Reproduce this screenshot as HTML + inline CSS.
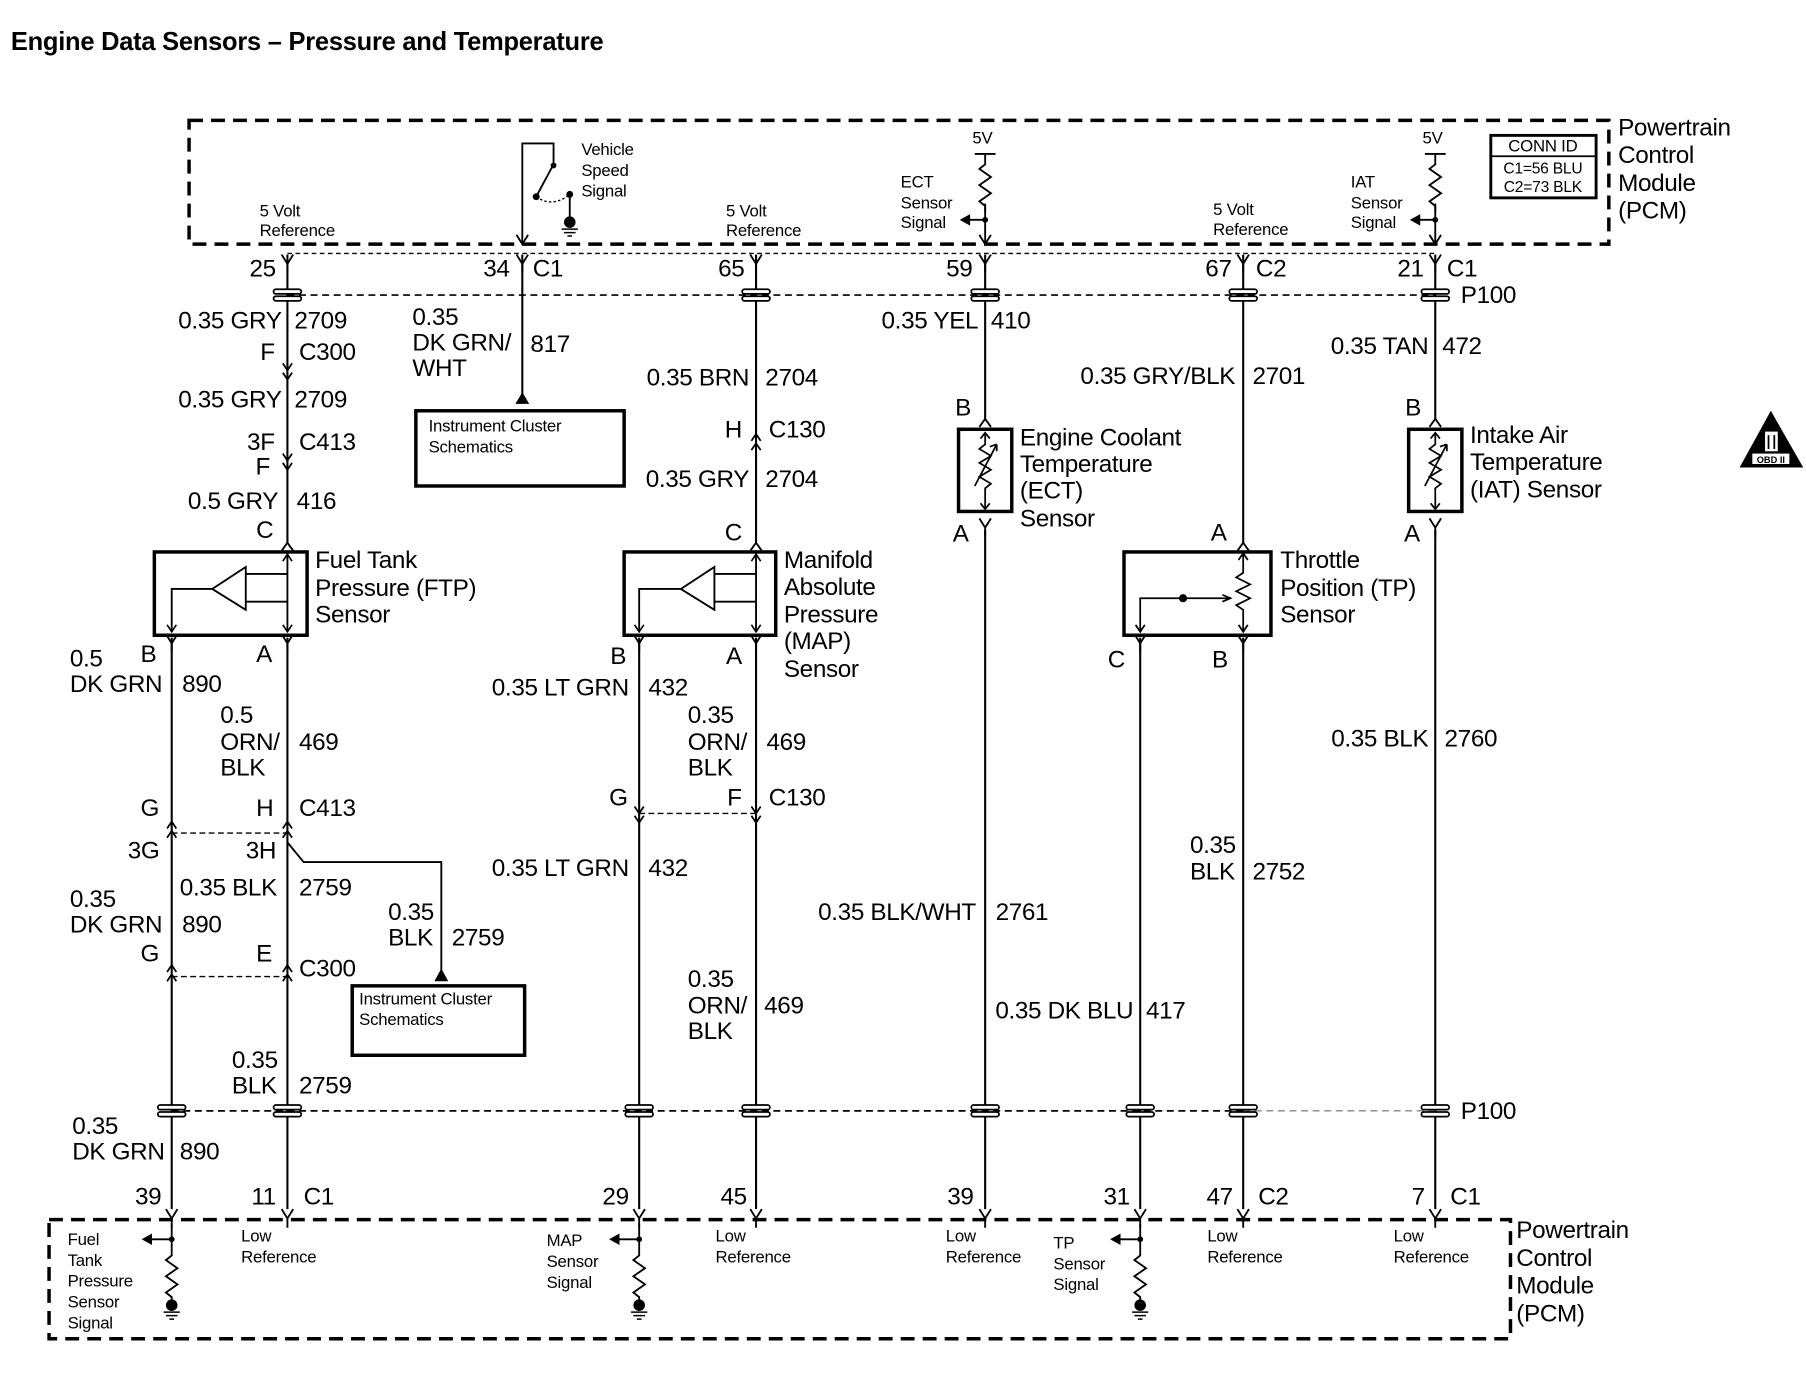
<!DOCTYPE html>
<html><head><meta charset="utf-8"><style>
html,body{margin:0;padding:0;background:#fff}
svg{display:block}
text{font-family:"Liberation Sans",Arial,sans-serif;fill:#000}
.t{font-size:21px;letter-spacing:-0.3px}
.s{font-size:14.5px;letter-spacing:-0.2px}
.r{text-anchor:end}
</style></head><body>
<svg width="1806" height="1392" viewBox="0 0 1560 1203" xmlns="http://www.w3.org/2000/svg">
<defs>
<g id="fork"><path d="M-5,-8 L0,0 L5,-8 M0,0 V8" fill="none" stroke="#000" stroke-width="1.6"/></g>
<g id="pass"><rect x="-12" y="-5" width="24" height="4" rx="2" fill="#fff" stroke="#000" stroke-width="1.5"/><rect x="-12" y="1" width="24" height="4" rx="2" fill="#fff" stroke="#000" stroke-width="1.5"/></g>
<g id="inl"><path d="M-4,-8 L0,-2 L4,-8 M-4,0 L0,6 L4,0" fill="none" stroke="#000" stroke-width="1.5"/></g>
<g id="inlu"><path d="M-4,8 L0,2 L4,8 M-4,0 L0,-6 L4,0" fill="none" stroke="#000" stroke-width="1.5"/></g>
<g id="res"><path d="M0,0 l0,5 l-5,4 l10,7 l-10,7 l10,7 l-10,7 l5,4 l0,5" fill="none" stroke="#000" stroke-width="1.6"/></g>
<g id="gnd"><circle cx="0" cy="0" r="5" fill="#000"/><path d="M-7,6 H7 M-5,9 H5 M-2,12 H2" stroke="#000" stroke-width="1.3"/></g>
</defs>

<text x="9" y="43" style="font-size:22px;font-weight:bold;letter-spacing:-0.2px">Engine Data Sensors – Pressure and Temperature</text>

<!-- Top PCM box -->
<rect x="163" y="104" width="1227" height="107" fill="none" stroke="#000" stroke-width="3" stroke-dasharray="12,7"/>
<text class="s" x="224" y="187">5 Volt</text><text class="s" x="224" y="204">Reference</text>
<text class="s" x="627" y="187">5 Volt</text><text class="s" x="627" y="204">Reference</text>
<text class="s" x="1048" y="186">5 Volt</text><text class="s" x="1048" y="203">Reference</text>
<!-- VSS -->
<path d="M451,211 V124 H478 V142 L463,170" fill="none" stroke="#000" stroke-width="1.6"/>
<circle cx="478" cy="143" r="2.5"/><circle cx="463" cy="170" r="3"/><circle cx="492" cy="168" r="3"/>
<path d="M463,170 Q477,180 492,168" fill="none" stroke="#000" stroke-width="1.2" stroke-dasharray="2,2"/>
<path d="M492,168 V188" stroke="#000" stroke-width="1.6"/><use href="#gnd" x="492" y="192"/>
<path d="M446,203 L451,211 L456,203" fill="none" stroke="#000" stroke-width="1.6"/>
<text class="s" x="502" y="134">Vehicle</text><text class="s" x="502" y="152">Speed</text><text class="s" x="502" y="170">Signal</text>
<!-- ECT pullup -->
<text class="s" x="840" y="124">5V</text>
<path d="M842,133 H860 M851,133 V137" stroke="#000" stroke-width="1.6"/>
<use href="#res" x="851" y="137"/>
<path d="M851,176 V211 M846,203 L851,211 L856,203" fill="none" stroke="#000" stroke-width="1.6"/>
<circle cx="851" cy="190" r="2.5"/><path d="M851,190 H836" stroke="#000" stroke-width="1.6"/><path d="M829,190 L838,185 L838,195 Z"/>
<text class="s" x="778" y="162">ECT</text><text class="s" x="778" y="180">Sensor</text><text class="s" x="778" y="197">Signal</text>
<!-- IAT pullup -->
<text class="s" x="1229" y="124">5V</text>
<path d="M1231,133 H1249 M1240,133 V137" stroke="#000" stroke-width="1.6"/>
<use href="#res" x="1240" y="137"/>
<path d="M1240,176 V211 M1235,203 L1240,211 L1245,203" fill="none" stroke="#000" stroke-width="1.6"/>
<circle cx="1240" cy="190" r="2.5"/><path d="M1240,190 H1225" stroke="#000" stroke-width="1.6"/><path d="M1218,190 L1227,185 L1227,195 Z"/>
<text class="s" x="1167" y="162">IAT</text><text class="s" x="1167" y="180">Sensor</text><text class="s" x="1167" y="197">Signal</text>
<!-- CONN ID -->
<rect x="1288" y="117" width="91" height="54" fill="none" stroke="#000" stroke-width="2.5"/>
<path d="M1288,135 H1379" stroke="#000" stroke-width="1.5"/>
<text class="s" x="1333" y="131" text-anchor="middle">CONN ID</text>
<text class="s" x="1333" y="150" text-anchor="middle" style="font-size:13.5px">C1=56 BLU</text>
<text class="s" x="1333" y="166" text-anchor="middle" style="font-size:13.5px">C2=73 BLK</text>
<text class="t" x="1398" y="117">Powertrain</text><text class="t" x="1398" y="141">Control</text><text class="t" x="1398" y="165">Module</text><text class="t" x="1398" y="189">(PCM)</text>

<!-- top connector row -->
<path d="M248,219 H1240" stroke="#000" stroke-width="1.2" stroke-dasharray="4,3"/>
<path d="M248,255 H1240" stroke="#000" stroke-width="1.5" stroke-dasharray="6,4"/>
<g stroke="#000" stroke-width="1.8">
<path d="M248,220 V470"/><path d="M451,220 V345"/><path d="M653,220 V470"/><path d="M851,220 V362"/><path d="M1074,220 V470"/><path d="M1240,220 V362"/>
</g>
<use href="#fork" x="248" y="228"/><use href="#fork" x="451" y="228"/><use href="#fork" x="653" y="228"/><use href="#fork" x="851" y="228"/><use href="#fork" x="1074" y="228"/><use href="#fork" x="1240" y="228"/>
<use href="#pass" x="248" y="255"/><use href="#pass" x="653" y="255"/><use href="#pass" x="851" y="255"/><use href="#pass" x="1074" y="255"/><use href="#pass" x="1240" y="255"/>
<text class="t r" x="238" y="239">25</text>
<text class="t r" x="440" y="239">34</text><text class="t" x="460" y="239">C1</text>
<text class="t r" x="643" y="239">65</text>
<text class="t r" x="840" y="239">59</text>
<text class="t r" x="1064" y="239">67</text><text class="t" x="1085" y="239">C2</text>
<text class="t r" x="1230" y="239">21</text><text class="t" x="1250" y="239">C1</text>
<text class="t" x="1262" y="262">P100</text>

<!-- Column 248 upper -->
<text class="t r" x="243" y="284">0.35 GRY</text><text class="t" x="254" y="284">2709</text>
<text class="t r" x="237" y="311">F</text><text class="t" x="258" y="311">C300</text>
<use href="#inl" x="248" y="322"/>
<text class="t r" x="243" y="352">0.35 GRY</text><text class="t" x="254" y="352">2709</text>
<text class="t r" x="237" y="389">3F</text><text class="t" x="258" y="389">C413</text><text class="t r" x="233" y="410">F</text>
<use href="#inl" x="248" y="400"/>
<text class="t r" x="240" y="440">0.5 GRY</text><text class="t" x="256" y="440">416</text>
<text class="t" x="221" y="465">C</text>
<path d="M243,476 L248,469 L253,476" fill="none" stroke="#000" stroke-width="1.6"/>

<!-- Instrument cluster 1 -->
<text class="t" x="356" y="281">0.35</text><text class="t" x="356" y="303">DK GRN/</text><text class="t" x="356" y="325">WHT</text><text class="t" x="458" y="304">817</text>
<path d="M445,349 L451,339 L457,349 Z"/>
<rect x="359" y="355" width="180" height="65" fill="none" stroke="#000" stroke-width="3"/>
<text class="s" x="370" y="373">Instrument Cluster</text><text class="s" x="370" y="391">Schematics</text>

<!-- FTP sensor -->
<rect x="133" y="477" width="132" height="72" fill="none" stroke="#000" stroke-width="3"/>
<path d="M248,478 V545 M248,496 H212 M248,520 H212 M212,490 V527 L183,509 Z M183,509 H148 V545" fill="none" stroke="#000" stroke-width="1.6"/>
<path d="M244,485 L248,479 L252,485 M144,540 L148,546 L152,540 M244,540 L248,546 L252,540" fill="none" stroke="#000" stroke-width="1.4"/>
<text class="t" x="272" y="491">Fuel Tank</text><text class="t" x="272" y="515">Pressure (FTP)</text><text class="t" x="272" y="538">Sensor</text>

<!-- MAP upper -->
<text class="t r" x="647" y="333">0.35 BRN</text><text class="t" x="661" y="333">2704</text>
<text class="t" x="626" y="378">H</text><text class="t" x="664" y="378">C130</text>
<use href="#inlu" x="653" y="381"/>
<text class="t r" x="647" y="421">0.35 GRY</text><text class="t" x="661" y="421">2704</text>
<text class="t" x="626" y="467">C</text>
<path d="M648,476 L653,469 L658,476" fill="none" stroke="#000" stroke-width="1.6"/>
<rect x="539" y="477" width="131" height="72" fill="none" stroke="#000" stroke-width="3"/>
<path d="M653,478 V545 M653,496 H617 M653,520 H617 M617,490 V527 L588,509 Z M588,509 H552 V545" fill="none" stroke="#000" stroke-width="1.6"/>
<path d="M649,485 L653,479 L657,485 M548,540 L552,546 L556,540 M649,540 L653,546 L657,540" fill="none" stroke="#000" stroke-width="1.4"/>
<text class="t" x="677" y="491">Manifold</text><text class="t" x="677" y="514">Absolute</text><text class="t" x="677" y="538">Pressure</text><text class="t" x="677" y="561">(MAP)</text><text class="t" x="677" y="585">Sensor</text>

<!-- ECT -->
<text class="t r" x="845" y="284">0.35 YEL</text><text class="t" x="856" y="284">410</text>
<text class="t" x="825" y="359">B</text>
<path d="M846,369 L851,362 L856,369" fill="none" stroke="#000" stroke-width="1.6"/>
<rect x="828" y="371" width="46" height="71" fill="none" stroke="#000" stroke-width="3"/>
<path d="M851,374 V384 l-5,4 l10,6 l-10,6 l10,6 l-10,6 l10,6 l-5,4 V440 M847,379 L851,374 L855,379 M847,435 L851,440 L855,435 M842,420 L861,384 M861,384 l-6,2 M861,384 l0,6" fill="none" stroke="#000" stroke-width="1.5"/>
<text class="t" x="881" y="385">Engine Coolant</text><text class="t" x="881" y="408">Temperature</text><text class="t" x="881" y="431">(ECT)</text><text class="t" x="881" y="455">Sensor</text>
<text class="t" x="823" y="468">A</text>
<use href="#fork" x="851" y="456"/>

<!-- TP -->
<text class="t r" x="1067" y="332">0.35 GRY/BLK</text><text class="t" x="1082" y="332">2701</text>
<text class="t" x="1046" y="467">A</text>
<path d="M1069,476 L1074,469 L1079,476" fill="none" stroke="#000" stroke-width="1.6"/>
<rect x="971" y="477" width="127" height="72" fill="none" stroke="#000" stroke-width="3"/>
<path d="M1074,478 V495 l-6,4 l12,6 l-12,6 l12,6 l-12,6 l6,4 V546 M1070,484 L1074,478 L1078,484 M1070,540 L1074,546 L1078,540 M985,546 V517 H1062 M981,540 L985,546 L989,540 M1056,514 L1063,517 L1056,520" fill="none" stroke="#000" stroke-width="1.5"/>
<circle cx="1022" cy="517" r="3.5"/>
<text class="t" x="1106" y="491">Throttle</text><text class="t" x="1106" y="515">Position (TP)</text><text class="t" x="1106" y="538">Sensor</text>
<text class="t" x="957" y="577">C</text><text class="t" x="1047" y="577">B</text>

<!-- IAT -->
<text class="t r" x="1234" y="306">0.35 TAN</text><text class="t" x="1246" y="306">472</text>
<text class="t" x="1214" y="359">B</text>
<path d="M1235,369 L1240,362 L1245,369" fill="none" stroke="#000" stroke-width="1.6"/>
<rect x="1217" y="371" width="46" height="71" fill="none" stroke="#000" stroke-width="3"/>
<path d="M1240,374 V384 l-5,4 l10,6 l-10,6 l10,6 l-10,6 l10,6 l-5,4 V440 M1236,379 L1240,374 L1244,379 M1236,435 L1240,440 L1244,435 M1231,420 L1250,384 M1250,384 l-6,2 M1250,384 l0,6" fill="none" stroke="#000" stroke-width="1.5"/>
<text class="t" x="1270" y="383">Intake Air</text><text class="t" x="1270" y="406">Temperature</text><text class="t" x="1270" y="430">(IAT) Sensor</text>
<text class="t" x="1213" y="468">A</text>
<use href="#fork" x="1240" y="456"/>

<!-- OBD icon -->
<path d="M1530,355 L1558,404 H1503 Z"/>
<rect x="1525" y="373" width="11" height="17" fill="#fff"/><path d="M1528,376 V388 M1533,376 V388" stroke="#000" stroke-width="1.5"/>
<rect x="1514" y="392" width="32" height="9" fill="#fff"/><text x="1530" y="400" text-anchor="middle" style="font-size:8px;font-weight:bold">OBD II</text>

<!-- lower wires -->
<g stroke="#000" stroke-width="1.8">
<path d="M148,551 V1045"/><path d="M248,551 V1045"/><path d="M552,551 V1045"/><path d="M653,551 V1045"/>
<path d="M851,458 V1045"/><path d="M985,551 V1045"/><path d="M1074,551 V1045"/><path d="M1240,458 V1045"/>
</g>
<use href="#fork" x="148" y="556"/><use href="#fork" x="248" y="556"/><use href="#fork" x="552" y="556"/><use href="#fork" x="653" y="556"/><use href="#fork" x="985" y="556"/><use href="#fork" x="1074" y="556"/>
<text class="t" x="121" y="572">B</text><text class="t" x="221" y="572">A</text>
<text class="t" x="527" y="574">B</text><text class="t" x="627" y="574">A</text>

<!-- FTP lower -->
<text class="t" x="60" y="576">0.5</text><text class="t" x="60" y="598">DK GRN</text><text class="t" x="157" y="598">890</text>
<text class="t" x="190" y="625">0.5</text><text class="t" x="190" y="648">ORN/</text><text class="t" x="190" y="670">BLK</text><text class="t" x="258" y="648">469</text>
<text class="t" x="121" y="705">G</text><text class="t" x="221" y="705">H</text><text class="t" x="258" y="705">C413</text>
<path d="M148,720 H248" stroke="#000" stroke-width="1.2" stroke-dasharray="5,3"/>
<use href="#inlu" x="148" y="716"/><use href="#inlu" x="248" y="716"/>
<text class="t" x="110" y="742">3G</text><text class="t" x="212" y="742">3H</text>
<path d="M248,728 L262,745 H381 V840" fill="none" stroke="#000" stroke-width="1.6"/>
<path d="M375,848 L381,837 L387,848 Z"/>
<text class="t" x="155" y="774">0.35 BLK</text><text class="t" x="258" y="774">2759</text>
<text class="t" x="60" y="784">0.35</text><text class="t" x="60" y="806">DK GRN</text><text class="t" x="157" y="806">890</text>
<text class="t" x="335" y="795">0.35</text><text class="t" x="335" y="817">BLK</text><text class="t" x="390" y="817">2759</text>
<text class="t" x="121" y="831">G</text><text class="t" x="221" y="831">E</text><text class="t" x="258" y="844">C300</text>
<path d="M148,844 H248" stroke="#000" stroke-width="1.2" stroke-dasharray="5,3"/>
<use href="#inlu" x="148" y="840"/><use href="#inlu" x="248" y="840"/>
<rect x="304" y="852" width="149" height="60" fill="none" stroke="#000" stroke-width="3"/>
<text class="s" x="310" y="868">Instrument Cluster</text><text class="s" x="310" y="886">Schematics</text>
<text class="t" x="200" y="923">0.35</text><text class="t" x="200" y="945">BLK</text><text class="t" x="258" y="945">2759</text>
<text class="t" x="62" y="980">0.35</text><text class="t" x="62" y="1002">DK GRN</text><text class="t" x="155" y="1002">890</text>

<!-- MAP lower -->
<text class="t r" x="543" y="601">0.35 LT GRN</text><text class="t" x="560" y="601">432</text>
<text class="t" x="594" y="625">0.35</text><text class="t" x="594" y="648">ORN/</text><text class="t" x="594" y="670">BLK</text><text class="t" x="662" y="648">469</text>
<text class="t" x="526" y="696">G</text><text class="t" x="628" y="696">F</text><text class="t" x="664" y="696">C130</text>
<path d="M552,703 H653" stroke="#000" stroke-width="1.2" stroke-dasharray="5,3"/>
<use href="#inl" x="552" y="705"/><use href="#inl" x="653" y="705"/>
<text class="t r" x="543" y="757">0.35 LT GRN</text><text class="t" x="560" y="757">432</text>
<text class="t" x="594" y="853">0.35</text><text class="t" x="594" y="876">ORN/</text><text class="t" x="594" y="898">BLK</text><text class="t" x="660" y="876">469</text>

<!-- others lower -->
<text class="t r" x="843" y="795">0.35 BLK/WHT</text><text class="t" x="860" y="795">2761</text>
<text class="t r" x="979" y="880">0.35 DK BLU</text><text class="t" x="990" y="880">417</text>
<text class="t" x="1028" y="737">0.35</text><text class="t" x="1028" y="760">BLK</text><text class="t" x="1082" y="760">2752</text>
<text class="t r" x="1234" y="645">0.35 BLK</text><text class="t" x="1248" y="645">2760</text>

<!-- bottom P100 -->
<path d="M148,960 H1074" stroke="#000" stroke-width="1.5" stroke-dasharray="6,4"/>
<path d="M1074,960 H1240" stroke="#888" stroke-width="1.2" stroke-dasharray="6,4"/>
<use href="#pass" x="148" y="960"/><use href="#pass" x="248" y="960"/><use href="#pass" x="552" y="960"/><use href="#pass" x="653" y="960"/><use href="#pass" x="851" y="960"/><use href="#pass" x="985" y="960"/><use href="#pass" x="1074" y="960"/><use href="#pass" x="1240" y="960"/>
<text class="t" x="1262" y="967">P100</text>

<!-- bottom connector row -->
<use href="#fork" x="148" y="1053"/><use href="#fork" x="248" y="1053"/><use href="#fork" x="552" y="1053"/><use href="#fork" x="653" y="1053"/><use href="#fork" x="851" y="1053"/><use href="#fork" x="985" y="1053"/><use href="#fork" x="1074" y="1053"/><use href="#fork" x="1240" y="1053"/>
<text class="t r" x="139" y="1041">39</text><text class="t r" x="238" y="1041">11</text><text class="t" x="262" y="1041">C1</text>
<text class="t r" x="543" y="1041">29</text><text class="t r" x="645" y="1041">45</text>
<text class="t r" x="841" y="1041">39</text><text class="t r" x="976" y="1041">31</text>
<text class="t r" x="1065" y="1041">47</text><text class="t" x="1087" y="1041">C2</text>
<text class="t r" x="1231" y="1041">7</text><text class="t" x="1253" y="1041">C1</text>

<!-- Bottom PCM box -->
<rect x="42" y="1054" width="1263" height="103" fill="none" stroke="#000" stroke-width="3" stroke-dasharray="12,7"/>
<g stroke="#000" stroke-width="1.6" fill="none">
<path d="M148,1058 V1080"/><path d="M552,1058 V1080"/><path d="M985,1058 V1080"/>
<path d="M148,1071 H130"/><path d="M552,1071 H534"/><path d="M985,1071 H967"/>
</g>
<circle cx="148" cy="1071" r="2.5"/><circle cx="552" cy="1071" r="2.5"/><circle cx="985" cy="1071" r="2.5"/>
<path d="M122,1071 L131,1066 L131,1076 Z"/><path d="M526,1071 L535,1066 L535,1076 Z"/><path d="M959,1071 L968,1066 L968,1076 Z"/>
<use href="#res" x="148" y="1080"/><use href="#res" x="552" y="1080"/><use href="#res" x="985" y="1080"/>
<use href="#gnd" x="148" y="1128"/><use href="#gnd" x="552" y="1128"/><use href="#gnd" x="985" y="1128"/>
<text class="s" x="58" y="1076">Fuel</text><text class="s" x="58" y="1094">Tank</text><text class="s" x="58" y="1112">Pressure</text><text class="s" x="58" y="1130">Sensor</text><text class="s" x="58" y="1148">Signal</text>
<text class="s" x="208" y="1073">Low</text><text class="s" x="208" y="1091">Reference</text>
<text class="s" x="472" y="1077">MAP</text><text class="s" x="472" y="1095">Sensor</text><text class="s" x="472" y="1113">Signal</text>
<text class="s" x="618" y="1073">Low</text><text class="s" x="618" y="1091">Reference</text>
<text class="s" x="817" y="1073">Low</text><text class="s" x="817" y="1091">Reference</text>
<text class="s" x="910" y="1079">TP</text><text class="s" x="910" y="1097">Sensor</text><text class="s" x="910" y="1115">Signal</text>
<text class="s" x="1043" y="1073">Low</text><text class="s" x="1043" y="1091">Reference</text>
<text class="s" x="1204" y="1073">Low</text><text class="s" x="1204" y="1091">Reference</text>
<text class="t" x="1310" y="1070">Powertrain</text><text class="t" x="1310" y="1094">Control</text><text class="t" x="1310" y="1118">Module</text><text class="t" x="1310" y="1142">(PCM)</text>
</svg>
</body></html>
